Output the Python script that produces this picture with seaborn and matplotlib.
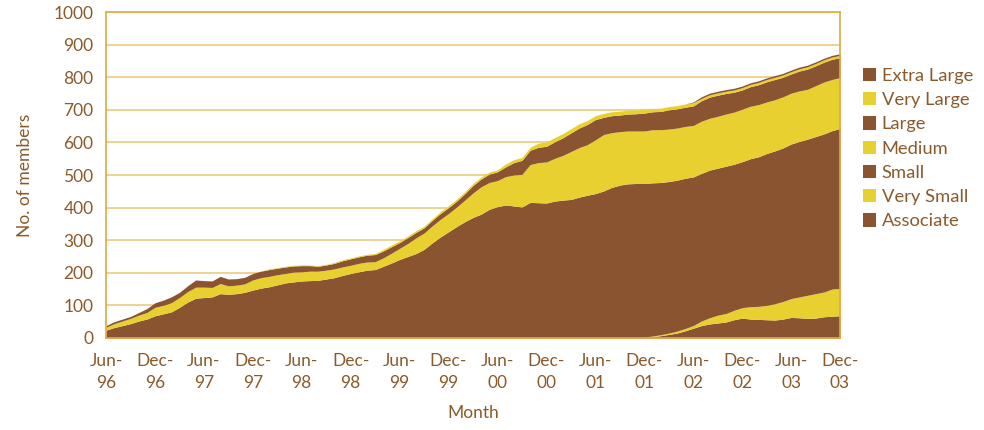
import numpy as np
import matplotlib
matplotlib.use("Agg")
import matplotlib.pyplot as plt
import seaborn as sns

# monthly values, Jun-96 .. Dec-03 (91 months)
associate = [0, 0, 0, 0, 0, 0, 0, 0, 0, 0, 0, 0, 0, 0, 0, 0, 0, 0, 0, 0,
             0, 0, 0, 0, 0, 0, 0, 0, 0, 0, 0, 0, 0, 0, 0, 0, 0, 0, 0, 0,
             0, 0, 0, 0, 0, 0, 0, 0, 0, 0, 0, 0, 0, 0, 0, 0, 0, 0, 0, 0,
             0, 0, 0, 0, 0, 0, 2, 4, 7, 11, 15, 22, 30, 38, 43, 46, 49, 56, 61, 58,
             57, 56, 55, 58, 63, 62, 60, 61, 65, 67, 68]
very_small = [0, 0, 0, 0, 0, 0, 0, 0, 0, 0, 0, 0, 0, 0, 0, 0, 0, 0, 0, 0,
              0, 0, 0, 0, 0, 0, 0, 0, 0, 0, 0, 0, 0, 0, 0, 0, 0, 0, 0, 0,
              0, 0, 0, 0, 0, 0, 0, 0, 0, 0, 0, 0, 0, 0, 0, 0, 0, 0, 0, 0,
              0, 0, 0, 0, 0, 0, 1, 2, 3, 4, 6, 7, 8, 14, 19, 24, 26, 29, 32, 38,
              40, 44, 50, 54, 58, 64, 71, 75, 76, 83, 84]
small = [24, 32, 38, 44, 52, 58, 68, 74, 80, 94, 110, 122, 124, 126, 136, 134, 136, 140, 147, 153,
         157, 163, 169, 172, 175, 176, 177, 181, 185, 192, 198, 203, 208, 210, 220, 230, 241, 250, 259, 272,
         292, 310, 326, 342, 357, 370, 380, 395, 403, 408, 405, 402, 416, 415, 414, 420, 423, 425, 432, 438,
         443, 451, 462, 469, 473, 474, 471, 470, 467, 465, 463, 461, 456, 453, 453, 451, 452, 448, 448, 454,
         459, 466, 469, 471, 474, 477, 479, 482, 485, 486, 491]
medium = [9, 12, 14, 16, 18, 20, 26, 26, 28, 30, 32, 34, 32, 29, 31, 26, 26, 26, 31, 32,
          32, 31, 29, 30, 28, 29, 28, 27, 27, 26, 25, 26, 25, 24, 26, 30, 34, 40, 48, 50,
          52, 54, 56, 60, 66, 75, 84, 82, 80, 87, 95, 100, 116, 123, 126, 131, 137, 147, 152, 155,
          165, 173, 168, 164, 162, 161, 161, 163, 162, 161, 160, 159, 158, 160, 159, 159, 160, 160, 161, 161,
          160, 158, 157, 157, 156, 155, 153, 156, 159, 157, 156]
large = [5, 6, 6, 6, 8, 12, 14, 16, 18, 16, 18, 22, 20, 20, 22, 21, 20, 20, 20, 20,
         21, 20, 20, 19, 19, 17, 15, 16, 17, 19, 20, 20, 21, 22, 21, 20, 18, 18, 17, 16,
         17, 18, 18, 18, 20, 23, 24, 26, 27, 30, 38, 43, 44, 47, 48, 51, 54, 57, 60, 62,
         62, 53, 52, 51, 52, 53, 55, 55, 56, 59, 59, 59, 60, 63, 65, 65, 63, 61, 59, 60,
         61, 62, 62, 60, 59, 61, 62, 61, 61, 62, 61]
very_large = [0, 0, 0, 0, 0, 0, 0, 0, 0, 0, 0, 0, 0, 0, 0, 0, 0, 0, 0, 0,
              2, 2, 2, 2, 2, 2, 2, 2, 3, 3, 3, 3, 3, 3, 5, 5, 5, 5, 5, 5,
              5, 6, 6, 6, 6, 6, 6, 6, 6, 9, 9, 9, 9, 13, 13, 13, 13, 13, 13, 12,
              12, 12, 12, 12, 12, 12, 12, 10, 10, 10, 10, 10, 10, 7, 7, 7, 7, 7, 7, 7,
              7, 7, 7, 7, 7, 7, 7, 7, 7, 7, 7]
extra_large = [0, 0, 0, 0, 0, 0, 0, 0, 0, 0, 0, 0, 0, 0, 0, 0, 0, 0, 0, 0,
               0, 0, 0, 0, 0, 0, 0, 0, 0, 0, 0, 0, 0, 0, 0, 0, 0, 0, 0, 0,
               0, 0, 0, 0, 0, 0, 0, 0, 0, 0, 0, 0, 0, 0, 0, 0, 0, 0, 0, 0,
               0, 0, 0, 0, 0, 0, 0, 0, 0, 0, 0, 0, 2, 5, 5, 5, 5, 5, 5, 5,
               5, 5, 5, 5, 5, 5, 5, 5, 5, 5, 5]

series_names = ["Associate", "Very Small", "Small", "Medium", "Large", "Very Large", "Extra Large"]
tick_labels = ["Jun-\n96", "Dec-\n96", "Jun-\n97", "Dec-\n97", "Jun-\n98", "Dec-\n98", "Jun-\n99", "Dec-\n99",
               "Jun-\n00", "Dec-\n00", "Jun-\n01", "Dec-\n01", "Jun-\n02", "Dec-\n02", "Jun-\n03", "Dec-\n03"]

brown = "#8B5430"
yellow = "#E8D030"
text_col = "#8B5A2B"
axis_col = "#E3A843"
grid_col = "#EDCB7E"

sns.set_theme(style="white")
plt.rcParams["font.family"] = ["Lato", "DejaVu Sans"]

fig, ax = plt.subplots(figsize=(9.84, 4.30), dpi=100)
fig.subplots_adjust(left=0.1077, right=0.8537, top=0.972, bottom=0.214)

x = np.arange(len(small))
ax.stackplot(x, associate, very_small, small, medium, large, very_large, extra_large,
             colors=[brown, yellow, brown, yellow, brown, yellow, brown],
             labels=series_names, linewidth=0)

ax.set_xlim(0, len(small) - 1)
ax.set_ylim(0, 1000)
ax.set_yticks(range(0, 1001, 100))
ax.set_xticks(range(0, len(small), 6))
ax.set_xticklabels(tick_labels, linespacing=1.45)
ax.set_axisbelow(True)
ax.yaxis.grid(True, color=grid_col, lw=1.2)
ax.xaxis.grid(False)

for s in ax.spines.values():
    s.set_color(axis_col)
    s.set_linewidth(1.2)
ax.tick_params(axis="both", which="major", direction="out", length=5, width=1,
               color=axis_col, labelcolor=text_col, labelsize=12.5, pad=4)
ax.tick_params(axis="x", pad=6)

ax.set_ylabel("No. of members", color=text_col, fontsize=12.5, labelpad=15)
ax.set_xlabel("Month", color=text_col, fontsize=12.5, labelpad=10)

h, l = ax.get_legend_handles_labels()
leg = ax.legend(h[::-1], l[::-1], loc="upper left", bbox_to_anchor=(0.877, 0.842),
                bbox_transform=fig.transFigure, frameon=False, fontsize=13.2,
                handlelength=0.72, handleheight=0.72, handletextpad=0.3,
                labelspacing=0.45, borderpad=0, borderaxespad=0)
for t in leg.get_texts():
    t.set_color(text_col)

fig.savefig("out.png", dpi=100)
